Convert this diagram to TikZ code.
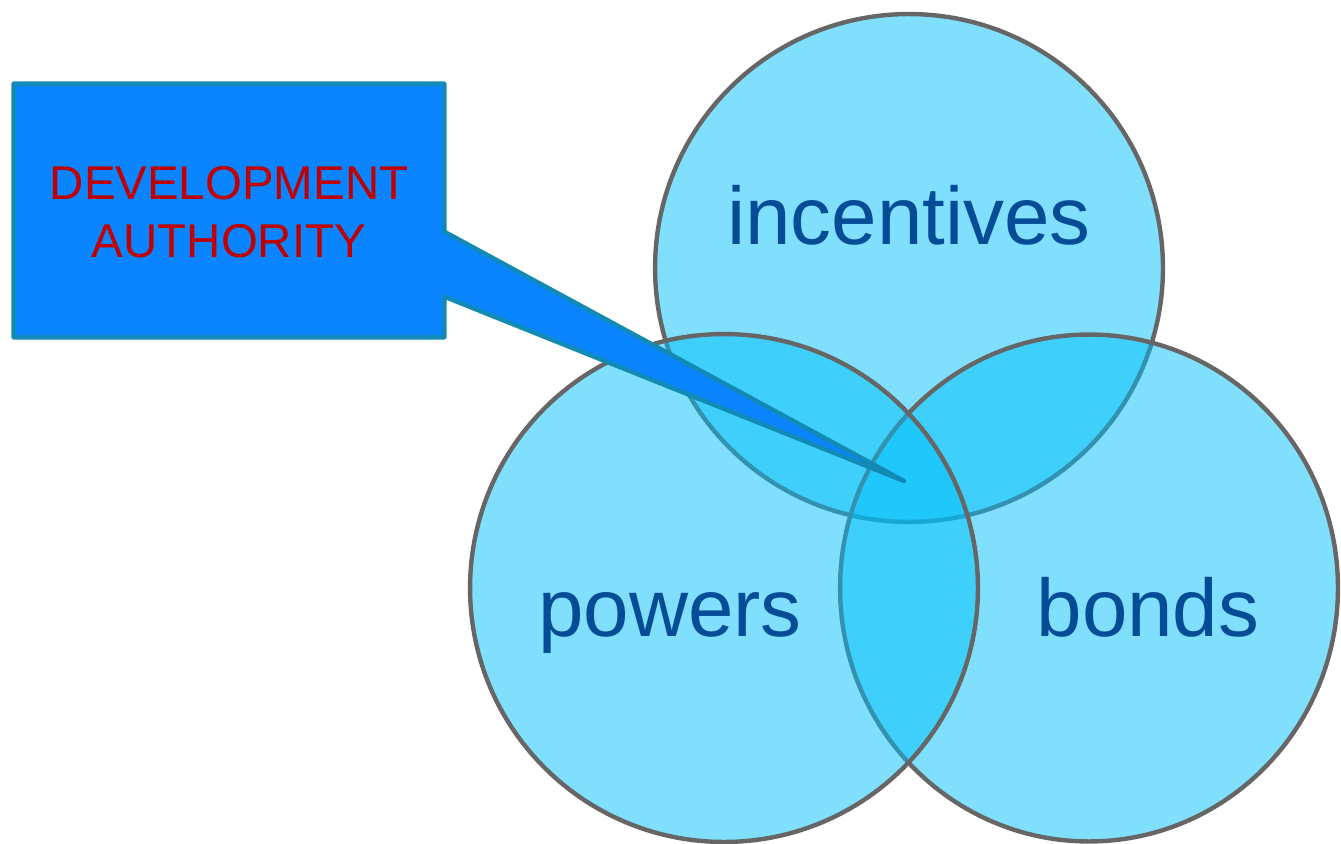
\documentclass[tikz,border=0pt]{standalone}
\usepackage{fontspec}
\setmainfont{Liberation Sans}
\usetikzlibrary{calc,shapes.geometric}
\definecolor{venn}{RGB}{0,191,250}
\definecolor{rimgray}{RGB}{102,102,102}
\definecolor{wordblue}{RGB}{4,76,150}
\definecolor{boxblue}{RGB}{10,132,255}
\definecolor{boxrim}{RGB}{18,138,182}
\definecolor{authred}{RGB}{192,0,0}
\begin{document}
\begin{tikzpicture}[x=0.02cm, y=-0.02cm,
    set/.style = {circle, draw=rimgray, line width=2.5pt, fill=venn, fill opacity=0.5, draw opacity=1, minimum size=10.16cm, inner sep=0pt},
    word/.style = {text=wordblue, font=\fontsize{46.5}{50}\selectfont, anchor=base},
    callbox/.style = {minimum width=8.6cm, minimum height=5.06cm, inner sep=0pt},
    callout/.style = {draw=boxrim, fill=boxblue, line width=2.5pt, line join=round}]
\useasboundingbox (0,0) rectangle (1341,844);
% the three sets
\node[set] (incent) at (909,268) {};
\node[set, ellipse, minimum width=9.96cm, minimum height=10.14cm] (bonds) at (1089,588) {};
\node[set] (powers) at (724,588) {};
\node[word] (t1) at (909,245) {incentives};
\node[word] (t2) at (670,636) {powers};
\node[word] (t3) at (1148,636) {bonds};
% callout
\node[callbox] (auth) at (229,210.5) {};
\coordinate (tip) at (904,481);
\draw[callout] (auth.north west) -- (auth.north east) -- ($(auth.north east)+(0,148)$) -- (tip)
    -- ($(auth.north east)+(0,213)$) -- (auth.south east) -- (auth.south west) -- cycle;
\node[text=authred, align=center, font=\fontsize{27}{33}\selectfont] (authtext) at (229,212) {DEVELOPMENT\\AUTHORITY};
\end{tikzpicture}
\end{document}
